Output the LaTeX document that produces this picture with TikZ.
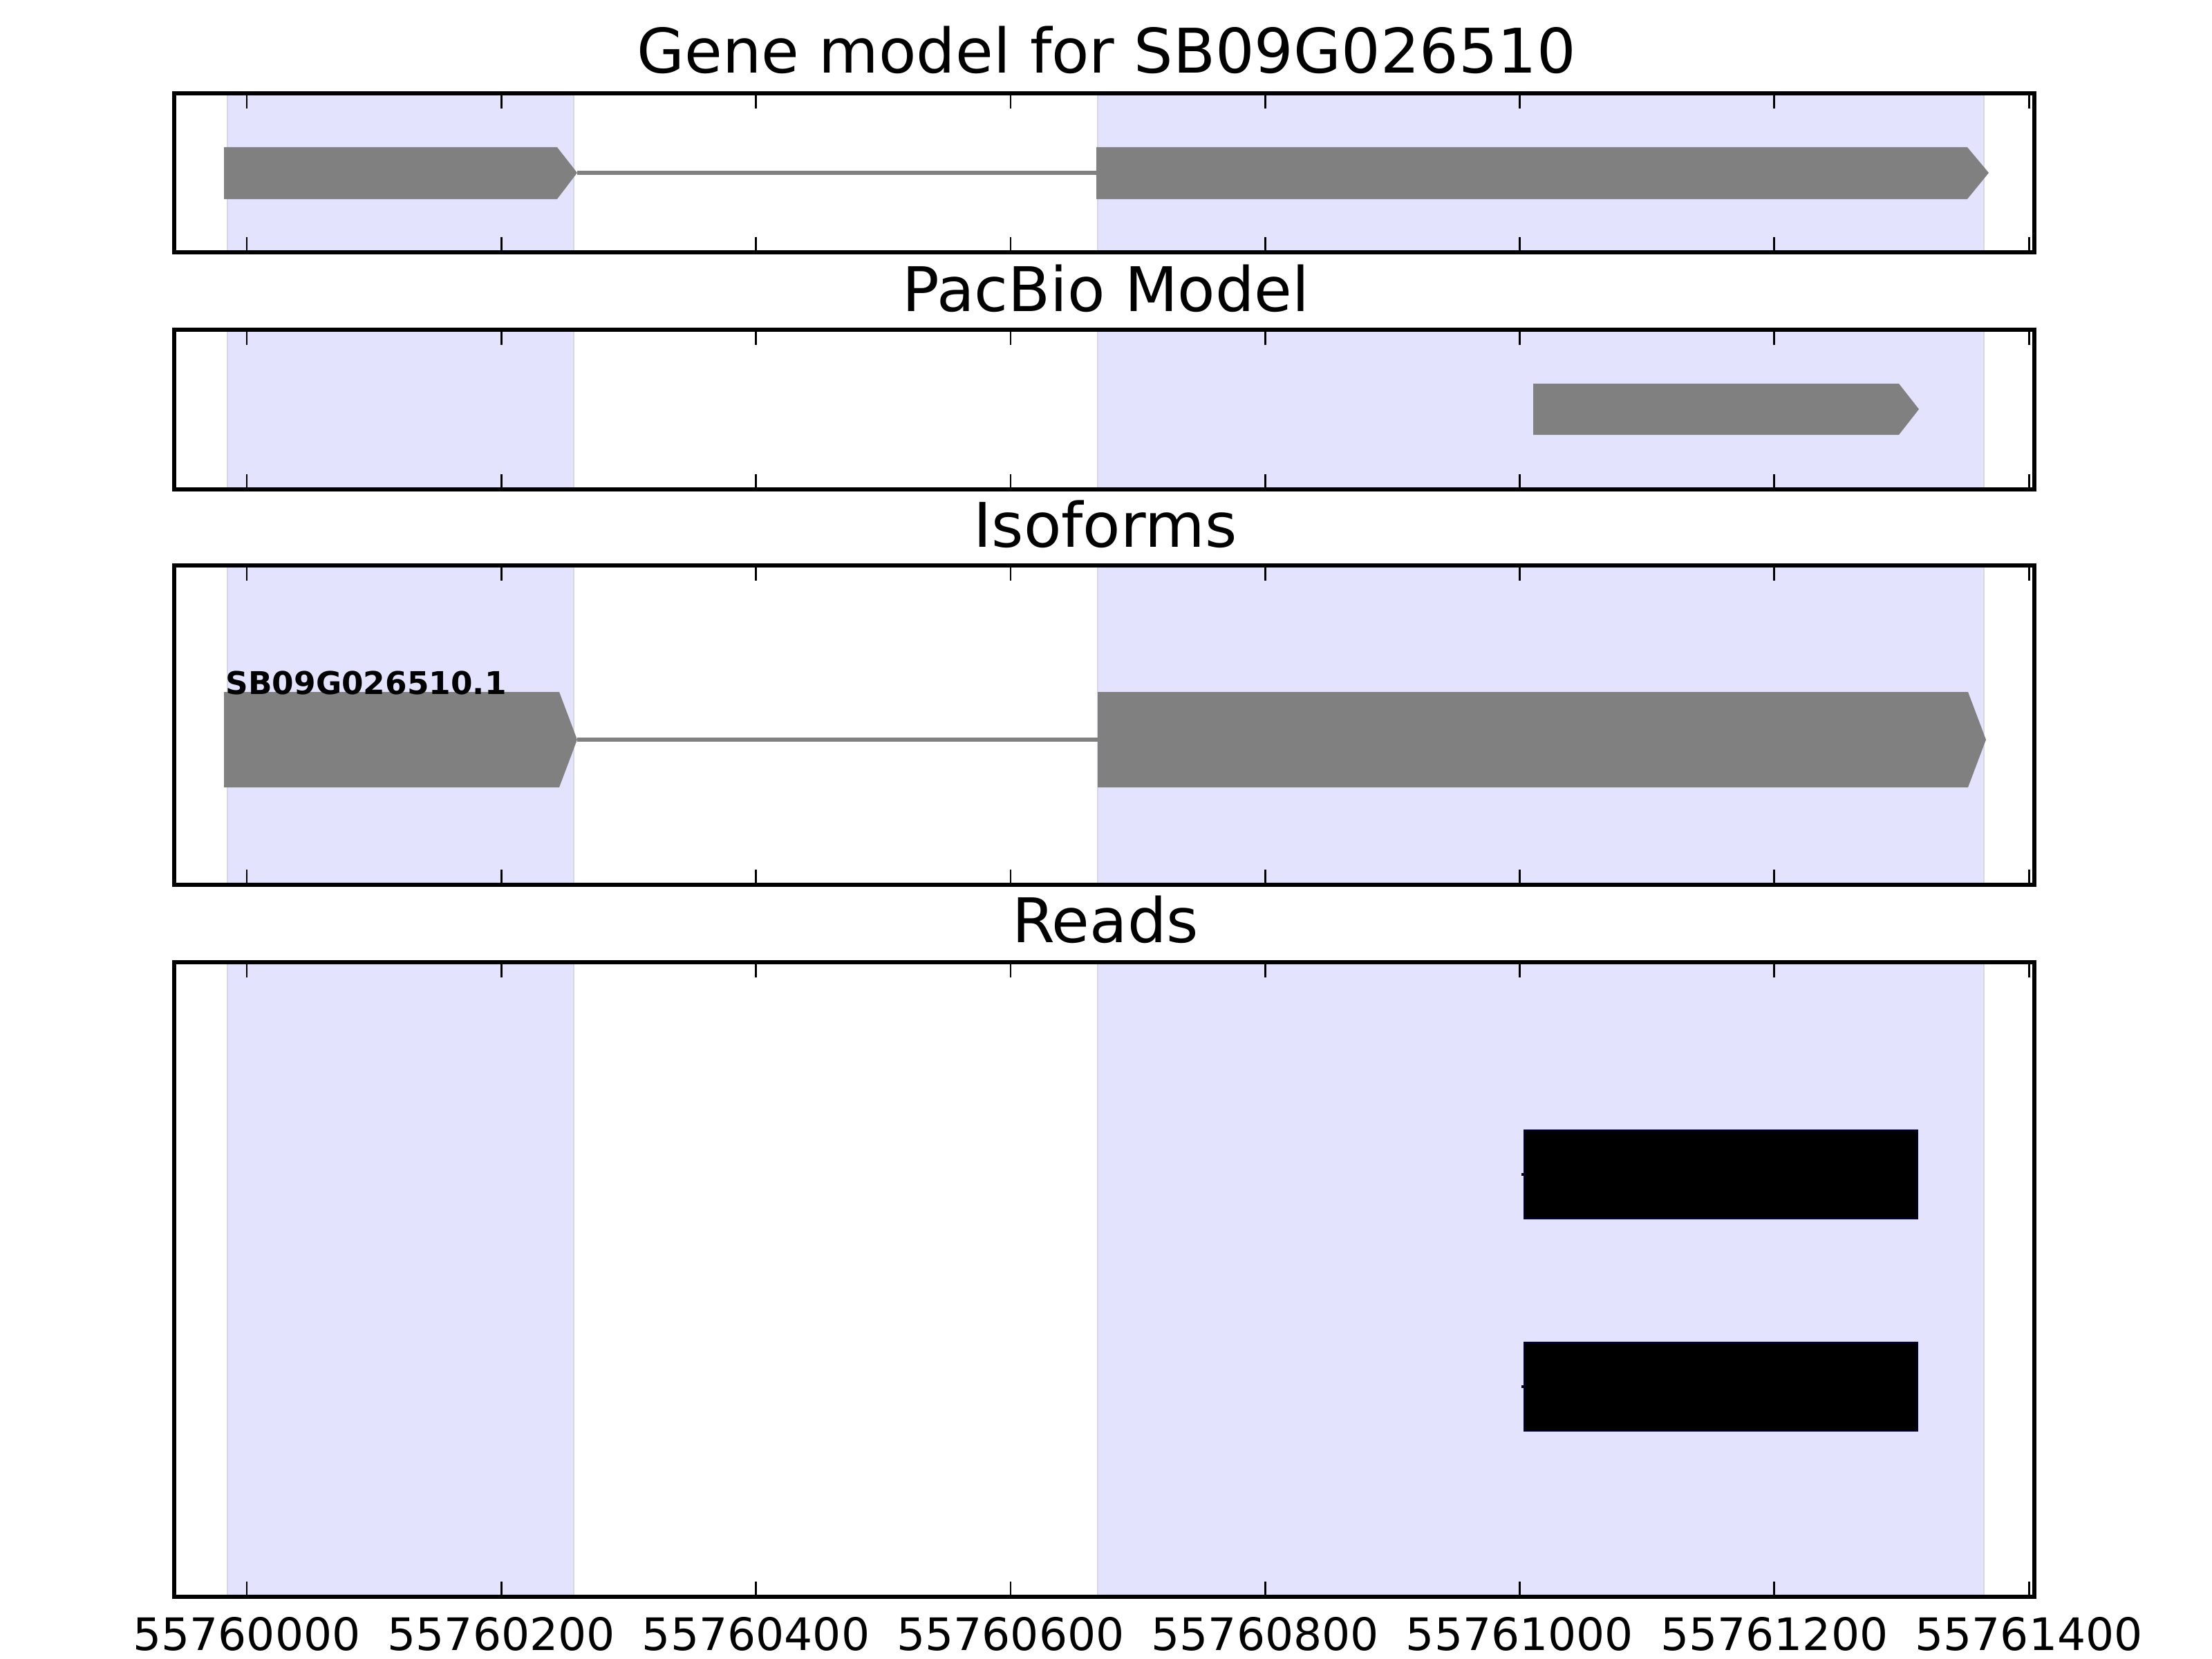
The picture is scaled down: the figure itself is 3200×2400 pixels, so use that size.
\documentclass[tikz,border=0pt]{standalone}
\usepackage{fontspec}
\setmainfont{DejaVu Sans}
\usetikzlibrary{positioning}

\definecolor{exongray}{RGB}{128,128,128}
\definecolor{spanfill}{RGB}{227,227,253}
\definecolor{spanedge}{RGB}{214,214,234}

\tikzset{
  frame/.style={draw=black, line width=1.5pt},
  exon/.style={fill=exongray, draw=none},
  intron/.style={draw=exongray, line width=1.5pt},
  spanedgeline/.style={draw=spanedge, line width=0.8pt},
  tickmark/.style={draw=black, line width=0.8pt},
  readbar/.style={fill=black, draw=black!80!blue, line width=0.4pt},
  ticklbl/.style={font=\fontsize{18.4}{22}\selectfont, anchor=base, inner sep=0pt},
  paneltitle/.style={font=\fontsize{25.3}{30}\selectfont, anchor=base, inner sep=0pt},
}

\begin{document}
\begin{tikzpicture}[x=0.01cm, y=-0.01cm]
    \useasboundingbox (0,0) rectangle (3200,2400);

    % shaded exon spans, ticks and frame of each panel
    \foreach \ya/\yb in {135/365, 477/708, 818/1280, 1392/2310} {
        \fill[spanfill] (329,\ya) rectangle (830,\yb);
        \fill[spanfill] (1588,\ya) rectangle (2870,\yb);
        \draw[spanedgeline] (329,\ya) -- (329,\yb) (830,\ya) -- (830,\yb);
        \draw[spanedgeline] (1588,\ya) -- (1588,\yb) (2870,\ya) -- (2870,\yb);
        \foreach \k in {0,...,7} {
            \draw[tickmark] (357+\k*368.3,\ya) -- ++(0,22);
            \draw[tickmark] (357+\k*368.3,\yb) -- ++(0,-22);
        }
        \draw[frame] (252,\ya) rectangle (2943,\yb);
    }

    % titles
    \node[paneltitle] (ttlgene) at (1601,106) {Gene model for SB09G026510};
    \node[paneltitle] (ttlpacbio) at (1600,450) {PacBio Model};
    \node[paneltitle] (ttliso) at (1599,791) {Isoforms};
    \node[paneltitle] (ttlreads) at (1599,1363) {Reads};

    % gene model
    \fill[exon] (324,213) -- (806,213) -- (835,250) -- (806,288) -- (324,288) -- cycle;
    \draw[intron] (835,250) -- (1586,250);
    \fill[exon] (1586,213) -- (2846,213) -- (2877,250) -- (2846,288) -- (1586,288) -- cycle;

    % pacbio model
    \fill[exon] (2218,555) -- (2747,555) -- (2776,592) -- (2747,629) -- (2218,629) -- cycle;

    % isoforms
    \fill[exon] (324,1001) -- (809,1001) -- (835,1070) -- (809,1139) -- (324,1139) -- cycle;
    \draw[intron] (835,1070) -- (1588,1070);
    \fill[exon] (1588,1001) -- (2847,1001) -- (2873,1070) -- (2847,1139) -- (1588,1139) -- cycle;
    \node[anchor=base west, inner sep=0pt, font=\fontsize{12.9}{15}\selectfont\bfseries] (isolbl) at (326,1004) {SB09G026510.1};

    % reads
    \draw[line width=1pt] (2201,1699) -- (2206,1699);
    \fill[readbar] (2205,1635) rectangle (2774,1763);
    \draw[line width=1pt] (2201,2006) -- (2206,2006);
    \fill[readbar] (2205,1942) rectangle (2774,2070);

    % x axis labels
    \foreach \k/\lbl in {0/55760000, 1/55760200, 2/55760400, 3/55760600, 4/55760800, 5/55761000, 6/55761200, 7/55761400} {
        \node[ticklbl] (xt\k) at (357+\k*368.3,2387) {\lbl};
    }
\end{tikzpicture}
\end{document}
